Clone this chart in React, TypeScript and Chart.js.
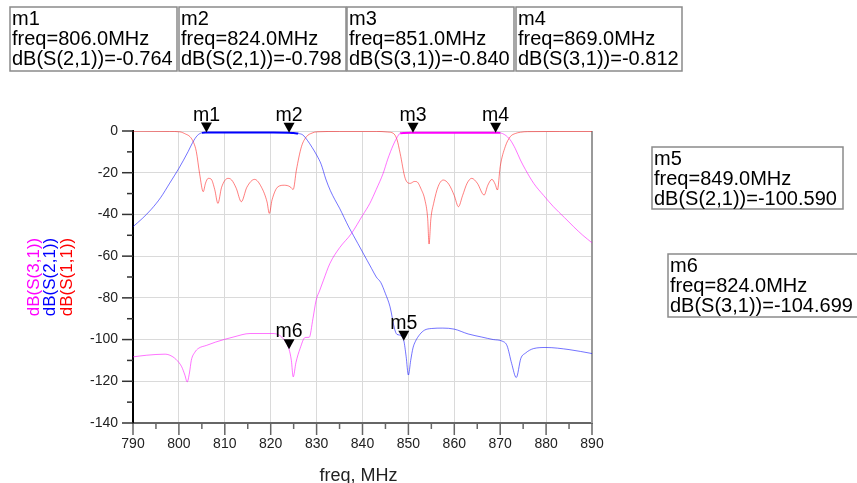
import { useEffect, useRef } from "react";
import { Chart, registerables } from "chart.js";

Chart.register(...registerables);

// ---------- data ----------
const s21Freq = [790, 792, 794, 796, 798, 800, 801, 802, 803, 804, 805, 806, 808, 812, 816, 820, 824, 825, 826, 827, 828, 829, 830, 831, 832, 833, 834, 835, 836, 837, 838, 839, 840, 841, 842, 843, 844, 845, 846, 847, 847.5, 848, 849, 849.5, 850, 850.5, 851, 851.5, 852.5, 853.5, 855, 857.5, 860, 863, 866, 868.5, 870.5, 871.5, 872.5, 873.5, 874.5, 875.5, 877.3, 880, 885, 890];
const s21Db = [-45.9, -42, -37.5, -32, -25, -17.9, -14, -9.9, -5.5, -2.2, -0.9, -0.764, -0.7, -0.7, -0.72, -0.75, -0.798, -1.0, -1.2, -1.9, -4.5, -7.8, -11.5, -16, -23, -28.6, -33, -37, -41.5, -46, -50, -54, -58, -62, -66, -70, -72.7, -78, -84.3, -95, -97.5, -97.8, -100.59, -108, -117, -110, -104, -101, -97.5, -95.5, -94.7, -94.5, -95, -97.3, -98.8, -100, -100.8, -103, -111.5, -118.2, -109, -106.5, -104.3, -103.8, -104.8, -106.7];

const s31Freq = [790, 793, 797, 798.7, 800, 800.6, 801.3, 801.8, 802.3, 802.7, 803.5, 804.2, 806, 808, 812, 815.5, 820.5, 822.7, 824, 824.5, 824.9, 825.5, 826.4, 827.5, 828.4, 829.2, 829.9, 830.7, 831.5, 832.9, 835, 837.6, 840, 841.6, 843, 844.5, 845.5, 846.7, 847.5, 848.2, 849, 851, 855, 860, 865, 869, 870, 871, 872.2, 873.3, 874.4, 875.5, 877.3, 879.5, 881.6, 884, 886, 888, 890];
const s31Db = [-108.3, -107.5, -107, -108.3, -111, -113, -117, -120.3, -116, -110, -106, -104.3, -102.8, -101.2, -98.7, -97.1, -97.1, -99.5, -104.699, -110, -117.9, -111, -104.3, -99, -98.9, -90, -81.1, -76.3, -71.5, -63.5, -56, -49.1, -40.5, -34.7, -28, -20.3, -13.5, -6.7, -3.2, -1.1, -0.9, -0.84, -0.8, -0.8, -0.8, -0.812, -0.9, -1.8, -4.3, -8.5, -13.9, -18.5, -25.1, -31, -36.3, -41.5, -45.9, -50, -53.6];

const s11Freq = [790, 798, 800.2, 801.5, 802.4, 803.2, 803.8, 804.5, 805.3, 805.8, 806.4, 807, 807.8, 808.5, 809.3, 810.7, 811.5, 812.5, 813.6, 814.8, 816.5, 818, 819.2, 819.7, 820.3, 821.6, 823, 824.2, 824.9, 825.6, 826.7, 827.8, 829, 830, 835, 843, 845.5, 846.7, 847.5, 848.2, 849.3, 850.4, 851.3, 851.8, 852.8, 853.6, 854.2, 854.5, 854.9, 855.5, 856.5, 857.6, 858.8, 860, 860.9, 861.8, 862.8, 863.8, 865, 866.5, 867.3, 868.2, 868.9, 869.4, 870, 871.1, 872.2, 873.3, 874.4, 876, 890];
const s11Db = [-0.1, -0.2, -0.4, -1.5, -2.7, -5.5, -9.9, -20.3, -29.1, -25, -22.7, -23, -28, -34.7, -27, -22.7, -23.5, -27.5, -33.9, -27, -23.2, -27, -34, -39.5, -33, -26.7, -26, -26.7, -28, -18.7, -7.5, -2.7, -1, -0.4, -0.2, -0.2, -0.5, -1.1, -4, -10.7, -22.7, -25.1, -24.2, -24.3, -28, -33.1, -42, -54.2, -42, -34.7, -26.5, -23.5, -25.5, -31, -36.3, -31, -25, -22.7, -25, -30.7, -26, -23.2, -25.5, -28.3, -17.1, -7.5, -2.7, -1.2, -0.6, -0.3, -0.2];

const markerNames = ["m1", "m2", "m3", "m4", "m5", "m6"];
const markerFreq = [806.0, 824.0, 851.0, 869.0, 849.0, 824.0];
const markerDb = [-0.764, -0.798, -0.84, -0.812, -100.59, -104.699];
const markerTrace = ["S(2,1)", "S(2,1)", "S(3,1)", "S(3,1)", "S(2,1)", "S(3,1)"];

const yTitles = ["dB(S(3,1))", "dB(S(2,1))", "dB(S(1,1))"];
const yTitleColors = ["#ff00ff", "#0000ff", "#ff0000"];
const xTitle = "freq, MHz";

// ---------- layout (positions only) ----------
const W = 857;
const H = 483;
const AREA = { left: 133, right: 592, top: 131, bottom: 423 };
const BOXES = [
  { x: 10, y: 7, w: 167, h: 64 },
  { x: 179, y: 7, w: 167, h: 64 },
  { x: 347, y: 7, w: 167, h: 64 },
  { x: 516, y: 7, w: 166, h: 64 },
  { x: 652, y: 147, w: 191, h: 62 },
  { x: 668, y: 254, w: 200, h: 63 },
];
const FONT = '"Liberation Sans", Arial, sans-serif';

const pts = (xs: number[], ys: number[]) => xs.map((x, i) => ({ x, y: ys[i] }));

const overlayPlugin = {
  id: "overlay",
  beforeDatasetsDraw(chart: any) {
    const ctx = chart.ctx;
    const xs = chart.scales.x;
    const ys = chart.scales.y;
    ctx.save();
    ctx.strokeStyle = "#9a9a9a";
    ctx.lineWidth = 2;
    ctx.beginPath();
    ctx.moveTo(xs.right, ys.top);
    ctx.lineTo(xs.right, ys.bottom);
    ctx.stroke();
    ctx.restore();
  },
  afterDatasetsDraw(chart: any) {
    const ctx = chart.ctx;
    const xs = chart.scales.x;
    const ys = chart.scales.y;
    ctx.save();
    ctx.strokeStyle = "#666";
    ctx.lineWidth = 1.5;
    for (let v = xs.min; v <= xs.max + 0.001; v += 5) {
      const px = xs.getPixelForValue(v);
      const len = Math.round(v) % 10 === 0 ? 12 : 6;
      ctx.beginPath();
      ctx.moveTo(px, ys.bottom);
      ctx.lineTo(px, ys.bottom + len);
      ctx.stroke();
    }
    ctx.strokeStyle = "#333";
    for (let v = ys.min; v <= ys.max + 0.001; v += 10) {
      const py = ys.getPixelForValue(v);
      const len = Math.round(v) % 20 === 0 ? 11 : 6;
      ctx.beginPath();
      ctx.moveTo(xs.left, py);
      ctx.lineTo(xs.left - len, py);
      ctx.stroke();
    }
    ctx.fillStyle = "#000";
    ctx.font = `19.5px ${FONT}`;
    ctx.textAlign = "center";
    ctx.textBaseline = "alphabetic";
    markerNames.forEach((name, i) => {
      const px = xs.getPixelForValue(markerFreq[i]);
      const py = ys.getPixelForValue(markerDb[i]);
      ctx.beginPath();
      ctx.moveTo(px - 5.5, py - 10);
      ctx.lineTo(px + 5.5, py - 10);
      ctx.lineTo(px, py);
      ctx.closePath();
      ctx.fill();
      ctx.fillText(name, px, py - 12);
    });
    ctx.restore();
  },
  afterDraw(chart: any) {
    const ctx = chart.ctx;
    const xs = chart.scales.x;
    const ys = chart.scales.y;
    ctx.save();
    BOXES.forEach((b, i) => {
      ctx.fillStyle = "#fff";
      ctx.fillRect(b.x, b.y, b.w, b.h);
      ctx.strokeStyle = "#8a8a8a";
      ctx.lineWidth = 1.5;
      ctx.strokeRect(b.x, b.y, b.w, b.h);
      ctx.fillStyle = "#000";
      ctx.font = `20px ${FONT}`;
      ctx.textAlign = "left";
      ctx.textBaseline = "alphabetic";
      const lines = [
        markerNames[i],
        `freq=${markerFreq[i].toFixed(1)}MHz`,
        `dB(${markerTrace[i]})=${markerDb[i].toFixed(3)}`,
      ];
      lines.forEach((t, k) => ctx.fillText(t, b.x + 2, b.y + 17.5 + k * 20));
    });
    const cy = (ys.top + ys.bottom) / 2;
    ctx.font = `17px ${FONT}`;
    ctx.textAlign = "center";
    ctx.textBaseline = "middle";
    yTitles.forEach((t, i) => {
      ctx.save();
      ctx.translate(34 + i * 16.5, cy);
      ctx.rotate(-Math.PI / 2);
      ctx.fillStyle = yTitleColors[i];
      ctx.fillText(t, 0, 0);
      ctx.restore();
    });
    ctx.fillStyle = "#222";
    ctx.font = `18px ${FONT}`;
    ctx.textAlign = "center";
    ctx.textBaseline = "alphabetic";
    ctx.fillText(xTitle, (xs.left + xs.right) / 2 - 4, 481);
    ctx.restore();
  },
};

const flatStyle = (solid: string, faint: string) => ({
  borderColor: (c: any) => (c.p0.parsed.y > -1.5 && c.p1.parsed.y > -1.5 ? solid : faint),
  borderWidth: (c: any) => (c.p0.parsed.y > -1.5 && c.p1.parsed.y > -1.5 ? 2 : 1),
});

export default function App() {
  const ref = useRef<HTMLCanvasElement | null>(null);
  useEffect(() => {
    if (!ref.current) return;
    const chart = new Chart(ref.current, {
      type: "line",
      data: {
        datasets: [
          {
            label: "dB(S(3,1))",
            data: pts(s31Freq, s31Db),
            borderColor: "rgba(255,0,255,0.55)",
            borderWidth: 1,
            pointRadius: 0,
            cubicInterpolationMode: "monotone",
            segment: flatStyle("#ff00ff", "rgba(255,0,255,0.55)"),
            order: 1,
          },
          {
            label: "dB(S(2,1))",
            data: pts(s21Freq, s21Db),
            borderColor: "rgba(0,0,255,0.55)",
            borderWidth: 1,
            pointRadius: 0,
            cubicInterpolationMode: "monotone",
            segment: flatStyle("#0000ff", "rgba(0,0,255,0.55)"),
            order: 2,
          },
          {
            label: "dB(S(1,1))",
            data: pts(s11Freq, s11Db),
            borderColor: "rgba(255,0,0,0.5)",
            borderWidth: 1,
            pointRadius: 0,
            cubicInterpolationMode: "monotone",
            order: 3,
          },
        ],
      },
      options: {
        responsive: false,
        animation: false,
        events: [],
        layout: { padding: { left: 0, top: AREA.top, right: W - AREA.right, bottom: 0 } },
        plugins: { legend: { display: false }, tooltip: { enabled: false } },
        scales: {
          x: {
            type: "linear",
            min: 790,
            max: 890,
            ticks: {
              stepSize: 10,
              color: "#222",
              font: { size: 14, family: FONT },
              padding: 13,
              maxRotation: 0,
            },
            grid: { color: "#dadada", lineWidth: 1, drawTicks: false },
            border: { display: true, color: "#666", width: 2 },
            afterFit: (s: any) => {
              s.height = H - AREA.bottom;
            },
          },
          y: {
            type: "linear",
            min: -140,
            max: 0,
            ticks: {
              stepSize: 20,
              color: "#222",
              font: { size: 14, family: FONT },
              padding: 15,
            },
            grid: { color: "#dadada", lineWidth: 1, drawTicks: false },
            border: { display: true, color: "#000", width: 2 },
            afterFit: (s: any) => {
              s.width = AREA.left;
            },
          },
        },
      },
      plugins: [overlayPlugin],
    } as any);
    return () => chart.destroy();
  }, []);
  return (
    <div style={{ position: "fixed", left: 0, top: 0, width: W, height: H, background: "#fff" }}>
      <canvas ref={ref} width={W} height={H} style={{ display: "block", width: W, height: H }} />
    </div>
  );
}
